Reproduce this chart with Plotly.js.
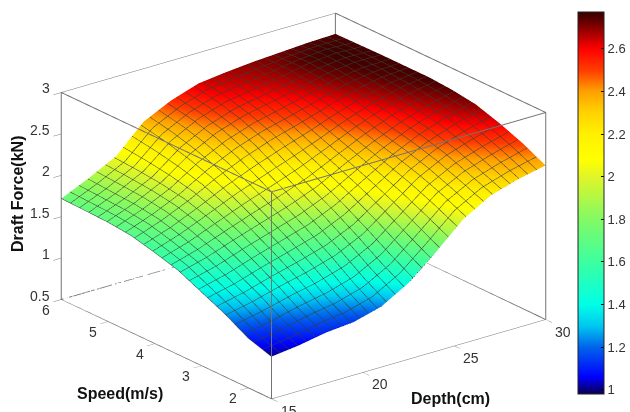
<!DOCTYPE html>
<html><head><meta charset="utf-8">
<script src="https://cdn.plot.ly/plotly-3.0.1.min.js"></script>
<style>html,body{margin:0;padding:0;background:#fff}#c{width:630px;height:412px}</style>
</head><body><div id="c"></div>
<script>
const depth = [15,16.5,18,19.5,21,22.5,24,25.5,27,28.5,30];
const speed = [1.5,2,2.5,3,3.5,4,4.5,5,5.5,6];
const force = [
[1.01,1.05,1.11,1.14,1.23,1.42,1.70,2.00,2.19,2.29,2.36],
[1.10,1.16,1.24,1.30,1.40,1.58,1.85,2.13,2.30,2.41,2.50],
[1.26,1.33,1.42,1.50,1.60,1.76,2.00,2.24,2.41,2.52,2.61],
[1.39,1.47,1.58,1.68,1.78,1.93,2.13,2.33,2.49,2.61,2.70],
[1.52,1.61,1.73,1.84,1.95,2.08,2.25,2.41,2.55,2.66,2.74],
[1.60,1.71,1.85,1.99,2.11,2.23,2.36,2.50,2.62,2.71,2.76],
[1.67,1.79,1.94,2.12,2.27,2.39,2.48,2.58,2.68,2.74,2.76],
[1.70,1.83,1.99,2.22,2.39,2.50,2.57,2.64,2.72,2.76,2.76],
[1.71,1.85,2.02,2.30,2.47,2.58,2.63,2.68,2.74,2.77,2.755],
[1.72,1.87,2.04,2.36,2.52,2.63,2.67,2.70,2.72,2.74,2.75]];
const depthTicks = [15,20,25,30];
const speedTicks = [2,3,4,5,6];
const forceTicks = [0.5,1,1.5,2,2.5,3];
const colorValues = [0.98,1.06,1.2,1.3,1.4,1.6,1.8,2.0,2.08,2.2,2.3,2.4,2.5,2.6,2.7,2.75,2.773];
const colorStops = ['rgb(10,0,80)','rgb(0,0,255)','rgb(0,100,235)','rgb(0,200,240)','rgb(0,255,230)','rgb(60,255,160)','rgb(130,250,100)','rgb(225,245,40)','rgb(255,255,0)','rgb(255,240,0)','rgb(255,210,0)','rgb(255,160,0)','rgb(255,60,0)','rgb(255,0,0)','rgb(135,0,0)','rgb(75,0,0)','rgb(60,0,0)'];
const cmin = 0.98, cmax = 2.773;
const dr = [15,30], sr = [1.5,6], fr = [0.5,3];
const colorscale = colorValues.map((v,i)=>[(v-cmin)/(cmax-cmin), colorStops[i]]);
const boxColor = 'rgb(115,115,115)';
const axisBase = {showgrid:false, zeroline:false, showbackground:false, showline:true, mirror:true, linecolor:boxColor, linewidth:1,
  ticks:'outside', ticklen:10, tickcolor:'#777', showspikes:false, showticklabels:false, title:{text:''}};
const surface = {type:'surface', x:depth, y:speed, z:force, colorscale, cmin, cmax,
  lighting:{ambient:1,diffuse:0,specular:0,roughness:1,fresnel:0},
  hoverinfo:'skip',
  contours:{
    x:{show:true,start:15,end:30,size:15/31,color:'rgba(15,25,15,0.85)',width:1},
    y:{show:true,start:1.5,end:6,size:4.5/23,color:'rgba(15,25,15,0.85)',width:1},
    z:{show:false}},
  colorbar:{x:578/630,xanchor:'left',xpad:0,ypad:0,y:209/412,yanchor:'middle',thickness:26,thicknessmode:'pixels',
    len:382,lenmode:'pixels',tick0:1,dtick:0.2,ticks:'inside',ticklen:3,tickcolor:'#000',outlinecolor:'#222',outlinewidth:1,
    tickfont:{family:'Liberation Sans',size:13,color:'#333'}}
};
// box outline from the axis ranges: one continuous path over all twelve edges
const corners = [[0,0,0],[1,0,0],[1,1,0],[0,1,0],[0,0,0],[0,0,1],[1,0,1],[1,1,1],[0,1,1],[0,0,1],[1,0,1],[1,0,0],[1,1,0],[1,1,1],[0,1,1],[0,1,0]];
const box = {type:'scatter3d',mode:'lines',x:corners.map(c=>dr[c[0]]),y:corners.map(c=>sr[c[1]]),z:corners.map(c=>fr[c[2]]),
  line:{color:boxColor,width:2},hoverinfo:'skip',showlegend:false};
const tf = {family:'Liberation Sans',size:14,color:'#333'};
const sceneNotes = [
 ...forceTicks.map(v=>({x:15,y:6,z:v,text:String(v),showarrow:false,xanchor:'right',xshift:-9,yshift:4,font:tf})),
 ...speedTicks.map(v=>({x:15,y:v,z:0.5,text:String(v),showarrow:false,xshift:-15,yshift:-10,font:tf})),
 ...depthTicks.map(v=>({x:v,y:1.5,z:0.5,text:String(v),showarrow:false,xshift:17,yshift:-12,font:tf}))
];
const R = 4, S = 1.69;
const titleFont = {family:'Liberation Sans',size:16,color:'#111'};
const layout = {width:630,height:412,margin:{l:0,r:0,t:0,b:0},paper_bgcolor:'#fff',showlegend:false,
  scene:{domain:{x:[0,0.9635],y:[0,1]},
    xaxis:{...axisBase,range:dr,tickvals:depthTicks},
    yaxis:{...axisBase,range:sr,tickvals:speedTicks},
    zaxis:{...axisBase,range:fr,tickvals:forceTicks},
    aspectmode:'manual',aspectratio:{x:1*S,y:0.98*S,z:0.64*S},
    annotations:sceneNotes,
    camera:{projection:{type:'orthographic'},up:{x:0,y:0,z:1},center:{x:0,y:0,z:0},
      eye:{x:-0.616*0.93*R,y:-0.787*0.93*R,z:0.37*R}}},
  annotations:[
   {text:'<b>Draft Force(kN)</b>',xref:'paper',yref:'paper',x:17/630,y:1-194/412,xanchor:'center',yanchor:'middle',textangle:-90,showarrow:false,font:titleFont},
   {text:'<b>Speed(m/s)</b>',xref:'paper',yref:'paper',x:120/630,y:1-393/412,xanchor:'center',yanchor:'middle',showarrow:false,font:titleFont},
   {text:'<b>Depth(cm)</b>',xref:'paper',yref:'paper',x:450/630,y:1-398/412,xanchor:'center',yanchor:'middle',showarrow:false,font:titleFont}
  ]};
Plotly.newPlot('c',[surface,box],layout,{displayModeBar:false});
</script></body></html>
